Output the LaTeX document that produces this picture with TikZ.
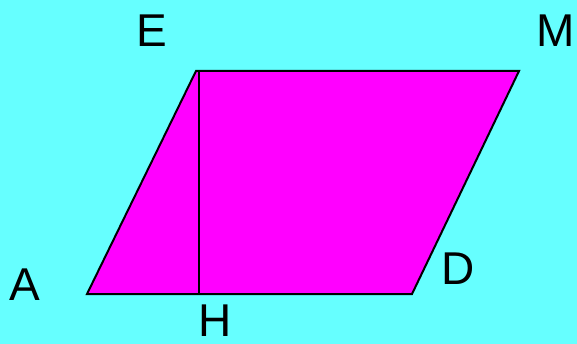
\documentclass[tikz,border=0pt]{standalone}
\usepackage{fontspec}
\setmainfont{Liberation Sans}
\definecolor{bgcyan}{HTML}{66FFFF}
\definecolor{shape}{HTML}{FF00FF}
\begin{document}
\begin{tikzpicture}[x=1pt,y=-1pt,
  lbl/.style={font=\fontsize{46}{50}\selectfont, inner sep=0pt, anchor=center},
  edge/.style={line width=2pt, line join=miter}]
\fill[bgcyan] (0,0) rectangle (577,344);
\useasboundingbox (0,0) rectangle (577,344);
\coordinate (A) at (87,294);
\coordinate (D) at (412,294);
\coordinate (M) at (519,71);
\coordinate (E) at (196,71);
\coordinate (T) at (199,71);
\coordinate (H) at (199,294);
\filldraw[fill=shape, draw=black, edge] (A) -- (D) -- (M) -- (E) -- cycle;
\draw[edge] (T) -- (H);
\node[lbl] (lE) at (152,31) {E};
\node[lbl] (lM) at (556,31) {M};
\node[lbl] (lA) at (25,285) {A};
\node[lbl] (lD) at (458,269) {D};
\node[lbl] (lH) at (215,321) {H};
\end{tikzpicture}
\end{document}
